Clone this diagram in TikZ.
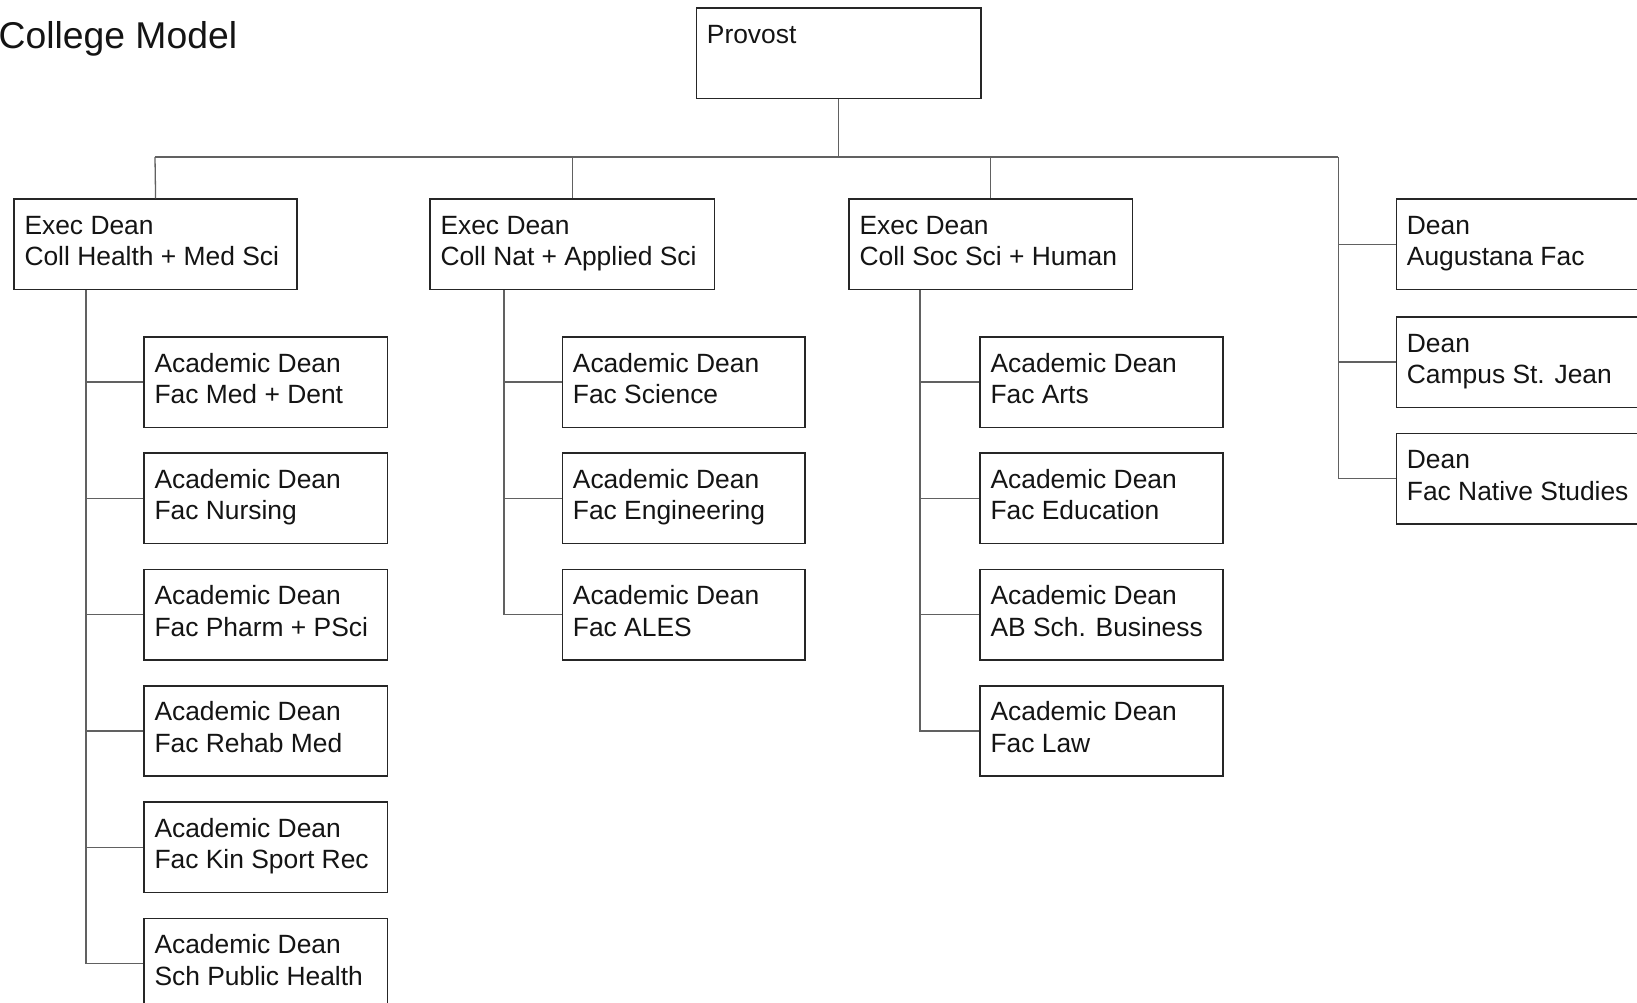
\documentclass[tikz,border=0pt]{standalone}
\usepackage{fontspec}
\setmainfont{Liberation Sans}
\usetikzlibrary{calc}
\tikzset{
  orgbox/.style={draw=black!85, line width=1.6pt, rectangle, inner sep=0pt, minimum height=90.5pt, anchor=north west},
  boxtext/.style={anchor=base west, inner sep=0pt, font=\fontsize{26.4}{31.5}\selectfont, text=black!92},
  link/.style={draw=black!62, line width=1.3pt},
}
\newcommand\orgnode[6]{%
  \node[orgbox, minimum width=#4pt] (#1) at (#2,#3) {};
  \node[boxtext] (#1-a) at ($(#1.north west)+(11,36)$) {#5};
  \node[boxtext] (#1-b) at ($(#1.north west)+(11,67.5)$) {#6};
}
\begin{document}
\begin{tikzpicture}[x=1pt,y=-1pt]
\useasboundingbox (0,0) rectangle (1637,1003);
\fill[white] (0,0) rectangle (1637,1003);
% title
\node[anchor=base west, inner sep=0pt, font=\fontsize{37.3}{40}\selectfont, text=black!92] (title) at (-1.5,48.5) {College Model};
% provost
\node[orgbox, minimum width=284.3pt, minimum height=90.4pt] (prov) at (695.7,7.3) {};
\node[boxtext] (prov-a) at ($(prov.north west)+(11,36)$) {Provost};
% exec deans
\orgnode{e1}{13.3}{198.3}{283}{Exec Dean}{Coll Health + Med Sci}
\orgnode{e2}{429.3}{198.3}{284.5}{Exec Dean}{Coll Nat + Applied Sci}
\orgnode{e3}{848.3}{198.3}{283.4}{Exec Dean}{Coll Soc Sci + Human}
% right deans
\orgnode{r1}{1395.7}{198.3}{283.5}{Dean}{Augustana Fac}
\orgnode{r2}{1395.7}{316}{283.5}{Dean}{Campus St. Jean}
\orgnode{r3}{1395.7}{432.7}{283.5}{Dean}{Fac Native Studies}
% column 1
\orgnode{a11}{143.3}{336}{243.4}{Academic Dean}{Fac Med + Dent}
\orgnode{a12}{143.3}{452.3}{243.4}{Academic Dean}{Fac Nursing}
\orgnode{a13}{143.3}{568.6}{243.4}{Academic Dean}{Fac Pharm + PSci}
\orgnode{a14}{143.3}{684.9}{243.4}{Academic Dean}{Fac Rehab Med}
\orgnode{a15}{143.3}{801.2}{243.4}{Academic Dean}{Fac Kin Sport Rec}
\orgnode{a16}{143.3}{917.5}{243.4}{Academic Dean}{Sch Public Health}
% column 2
\orgnode{a21}{561.7}{336}{242.6}{Academic Dean}{Fac Science}
\orgnode{a22}{561.7}{452.3}{242.6}{Academic Dean}{Fac Engineering}
\orgnode{a23}{561.7}{568.6}{242.6}{Academic Dean}{Fac ALES}
% column 3
\orgnode{a31}{979.3}{336}{242.8}{Academic Dean}{Fac Arts}
\orgnode{a32}{979.3}{452.3}{242.8}{Academic Dean}{Fac Education}
\orgnode{a33}{979.3}{568.6}{242.8}{Academic Dean}{AB Sch. Business}
\orgnode{a34}{979.3}{684.9}{242.8}{Academic Dean}{Fac Law}
% bus
\coordinate (busL) at (155,157);
\coordinate (busR) at (1338.3,157);
\draw[link] (prov.south) -- (prov.south |- busL);
\draw[link] (busL) -- (busR);
\draw[link] (busL) -- (e1.north);
\draw[link] (e2.north |- busL) -- (e2.north);
\draw[link] (e3.north |- busL) -- (e3.north);
\draw[link] (busR) |- (r3.west);
\draw[link] (busR |- r1.west) -- (r1.west);
\draw[link] (busR |- r2.west) -- (r2.west);
% column 1 links
\coordinate (s1) at ($(e1.south west)+(72.7,0)$);
\draw[link] (s1) |- (a16.west);
\foreach \n in {a11,a12,a13,a14,a15} \draw[link] (s1 |- \n.west) -- (\n.west);
% column 2 links
\coordinate (s2) at ($(e2.south west)+(74.7,0)$);
\draw[link] (s2) |- (a23.west);
\foreach \n in {a21,a22} \draw[link] (s2 |- \n.west) -- (\n.west);
% column 3 links
\coordinate (s3) at ($(e3.south west)+(71.7,0)$);
\draw[link] (s3) |- (a34.west);
\foreach \n in {a31,a32,a33} \draw[link] (s3 |- \n.west) -- (\n.west);
\end{tikzpicture}
\end{document}
